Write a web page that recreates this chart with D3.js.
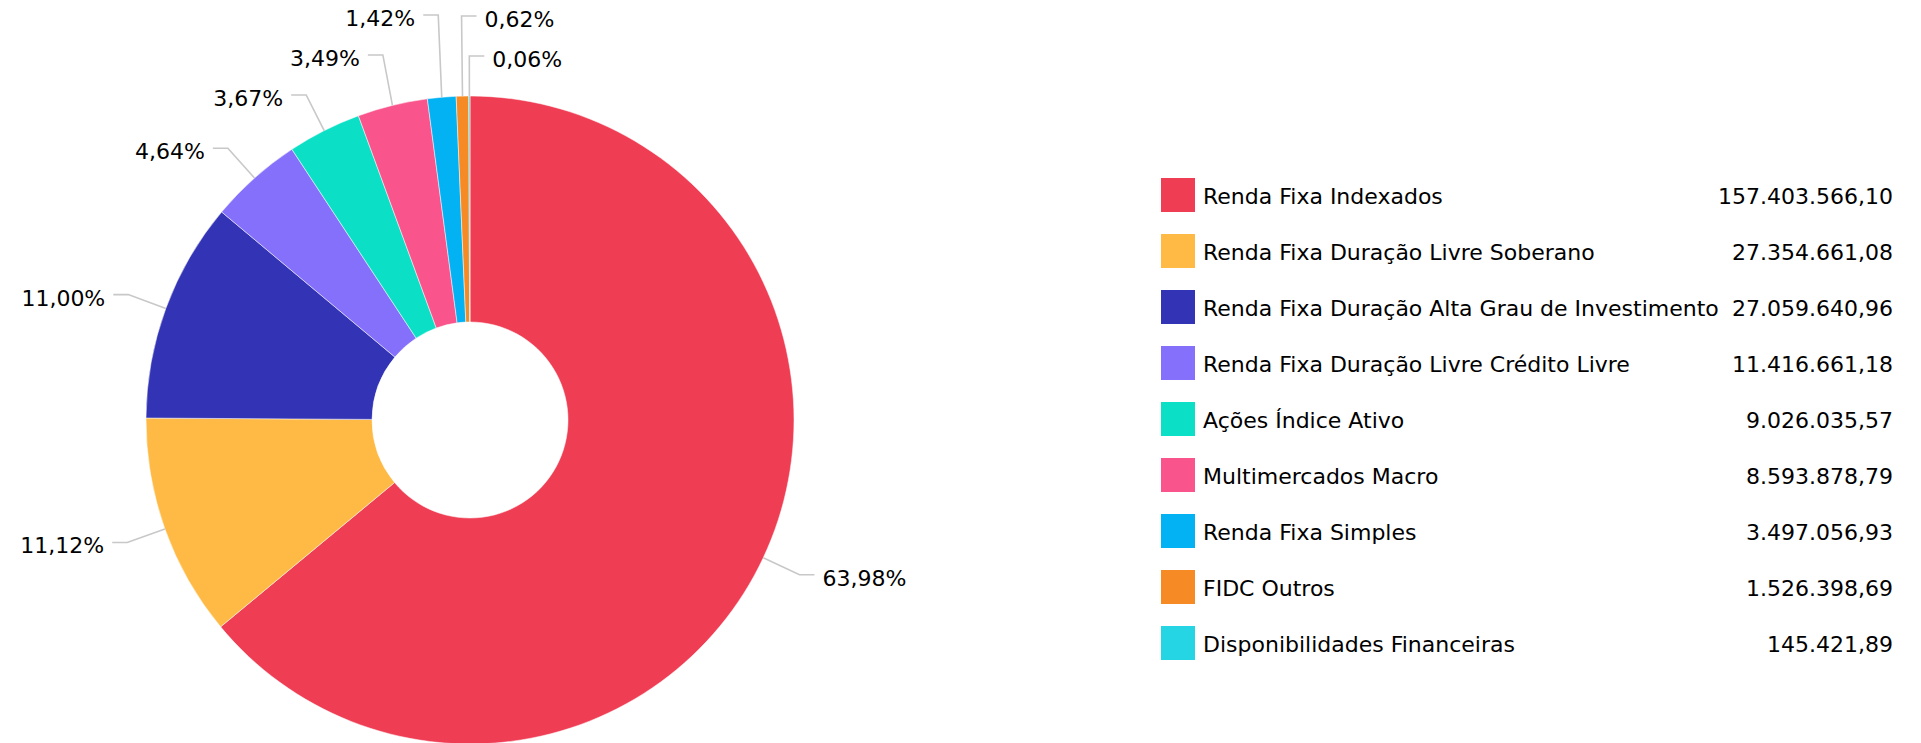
<!DOCTYPE html>
<html>
<head>
<meta charset="utf-8">
<script src="https://cdn.jsdelivr.net/npm/d3@7"></script>
<style>
  html, body { margin: 0; padding: 0; background: #fff; }
  svg { display: block; }
  text { font-family: "DejaVu Sans", Verdana, sans-serif; font-size: 22px; fill: #000; }
</style>
</head>
<body>
<svg id="chart" width="1921" height="743"></svg>
<script>
const categories = [
  "Renda Fixa Indexados",
  "Renda Fixa Duração Livre Soberano",
  "Renda Fixa Duração Alta Grau de Investimento",
  "Renda Fixa Duração Livre Crédito Livre",
  "Ações Índice Ativo",
  "Multimercados Macro",
  "Renda Fixa Simples",
  "FIDC Outros",
  "Disponibilidades Financeiras"
];
const values = [
  157403566.10,
  27354661.08,
  27059640.96,
  11416661.18,
  9026035.57,
  8593878.79,
  3497056.93,
  1526398.69,
  145421.89
];
const colors = [
  "#EF3D54", "#FFBA45", "#3333B5", "#8470FA", "#0BE0C6",
  "#F9548B", "#03B2F3", "#F68A25", "#25D5E3"
];

const svg = d3.select("#chart");
const cx = 470, cy = 420, outerR = 324, innerR = 98, elbowR = 364;
const hLen = 15, gap = 8, minSpacing = 40;

const locale = d3.formatLocale({ decimal: ",", thousands: ".", grouping: [3], currency: ["R$ ", ""] });
const fmtVal = locale.format(",.2f");
const fmtPct = locale.format(".2f");
const total = d3.sum(values);

const pie = d3.pie().sort(null).value(d => d).startAngle(0).endAngle(2 * Math.PI);
const arcs = pie(values);
const arc = d3.arc().innerRadius(innerR).outerRadius(outerR);

const g = svg.append("g").attr("transform", `translate(${cx},${cy})`);
g.selectAll("path.slice").data(arcs).enter().append("path")
  .attr("class", "slice")
  .attr("d", arc)
  .attr("fill", (d, i) => colors[i])
  .attr("stroke", "#fff")
  .attr("stroke-width", 0.5);

// labels
const labels = arcs.map((d, i) => {
  const a = (d.startAngle + d.endAngle) / 2;
  const s = Math.sin(a), c = -Math.cos(a);
  const right = s > -0.05;
  return {
    i, a, right,
    ox: outerR * s, oy: outerR * c,
    ex: elbowR * s, ey: elbowR * c,
    key: right ? (a > Math.PI ? a - 2 * Math.PI : a) : -a,
    text: fmtPct(values[i] / total * 100) + "%"
  };
});
["left", "right"].forEach(side => {
  const list = labels.filter(l => (side === "right") === l.right).sort((a, b) => a.key - b.key);
  for (let k = list.length - 2; k >= 0; k--) {
    list[k].ey = Math.min(list[k].ey, list[k + 1].ey - minSpacing);
  }
});

const lg = g.append("g");
labels.forEach(l => {
  const dir = l.right ? 1 : -1;
  lg.append("polyline")
    .attr("points", [[l.ox, l.oy], [l.ex, l.ey], [l.ex + dir * hLen, l.ey]].map(p => p.join(",")).join(" "))
    .attr("fill", "none")
    .attr("stroke", "#c8c8c8")
    .attr("stroke-width", 1.6);
  lg.append("text")
    .attr("x", l.ex + dir * (hLen + gap))
    .attr("y", l.ey + 11)
    .attr("text-anchor", l.right ? "start" : "end")
    .text(l.text);
});

// legend
const legendX = 1161, legendTop = 178, rowH = 56, sw = 34, valueX = 1893;
const leg = svg.append("g");
const rows = leg.selectAll("g.row").data(categories).enter().append("g")
  .attr("class", "row")
  .attr("transform", (d, i) => `translate(0,${legendTop + i * rowH})`);
rows.append("rect")
  .attr("x", legendX).attr("y", 0).attr("width", sw).attr("height", sw)
  .attr("fill", (d, i) => colors[i]);
rows.append("text")
  .attr("x", legendX + 42).attr("y", 26)
  .text(d => d);
rows.append("text")
  .attr("x", valueX).attr("y", 26)
  .attr("text-anchor", "end")
  .text((d, i) => fmtVal(values[i]));
</script>
</body>
</html>
